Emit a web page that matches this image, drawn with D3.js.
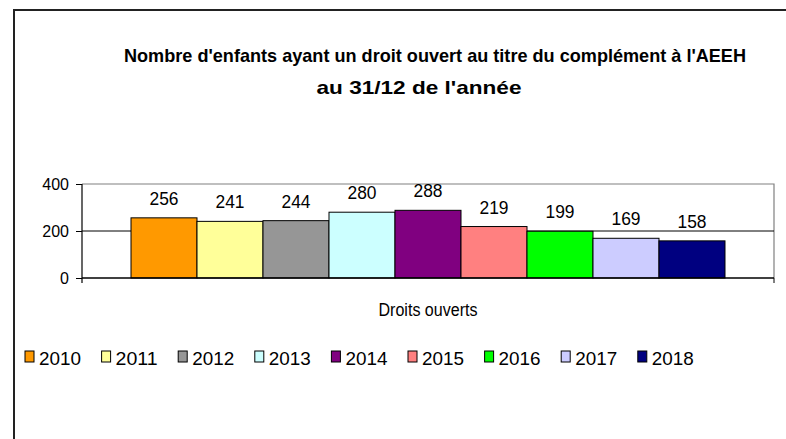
<!DOCTYPE html>
<html>
<head>
<meta charset="utf-8">
<script src="https://cdn.jsdelivr.net/npm/d3@7"></script>
<style>
  body { margin: 0; background: #fff; }
  text { font-family: "Liberation Sans", Arial, sans-serif; fill: #000; }
</style>
</head>
<body>
<svg id="chart" width="786" height="439"></svg>
<script>
// data
const years  = ['2010','2011','2012','2013','2014','2015','2016','2017','2018'];
const values = [256, 241, 244, 280, 288, 219, 199, 169, 158];
const colors = ['#FF9900','#FFFF99','#969696','#CCFFFF','#800080','#FF8080','#00FF00','#CCCCFF','#000080'];
const category = ['Droits ouverts'];
const yTicks = [0, 200, 400];

const svg = d3.select('#chart');

// outer frame (right/bottom edges fall outside the window)
svg.append('rect').attr('x', 14).attr('y', 10).attr('width', 800).attr('height', 500)
  .attr('fill', 'none').attr('stroke', '#222').attr('stroke-width', 2);

// title, two lines, tall and condensed like the original
const title = svg.append('g').attr('font-weight', 'bold').attr('text-anchor', 'middle');
title.append('text').attr('x', 435).attr('y', 62).attr('font-size', 19)
  .attr('textLength', 622).attr('lengthAdjust', 'spacingAndGlyphs')
  .text("Nombre d'enfants ayant un droit ouvert au titre du complément à l'AEEH");
title.append('text').attr('x', 419).attr('y', 94).attr('font-size', 19)
  .attr('textLength', 205).attr('lengthAdjust', 'spacingAndGlyphs')
  .text("au 31/12 de l'année");

// plot area
const L = 82, R = 774, T = 184, B = 278;
const y = d3.scaleLinear().domain([0, 400]).range([B, T]);
const x0 = d3.scaleBand().domain(category).range([L, R]).paddingInner(0).paddingOuter(0.0825);
const x1 = d3.scaleBand().domain(years).range([0, x0.bandwidth()]).padding(0);

// plot border top/right (gray)
svg.append('path').attr('d', `M${L},${T}H${R}V${B}`).attr('fill', 'none')
  .attr('stroke', '#808080').attr('stroke-width', 1.2);

// gridlines
svg.append('g').selectAll('line').data(yTicks.filter(v => v > 0 && v < 400)).join('line')
  .attr('x1', L).attr('x2', R).attr('y1', d => y(d)).attr('y2', d => y(d))
  .attr('stroke', '#000').attr('stroke-width', 1);

// bars
const g = svg.append('g').attr('transform', `translate(${x0(category[0])},0)`);
g.selectAll('rect').data(values).join('rect')
  .attr('x', (d, i) => x1(years[i]))
  .attr('y', d => y(d))
  .attr('width', x1.bandwidth())
  .attr('height', d => B - y(d))
  .attr('fill', (d, i) => colors[i])
  .attr('stroke', '#000').attr('stroke-width', 1);

// value labels
g.selectAll('text').data(values).join('text')
  .attr('x', (d, i) => x1(years[i]) + x1.bandwidth() / 2)
  .attr('y', d => y(d) - 13)
  .attr('text-anchor', 'middle').attr('font-size', 17.5)
  .attr('textLength', 29).attr('lengthAdjust', 'spacingAndGlyphs')
  .text(d => d);

// y axis
const yAxis = svg.append('g').attr('transform', `translate(${L},0)`)
  .call(d3.axisLeft(y).tickValues(yTicks).tickSize(6).tickPadding(7));
yAxis.select('.domain').remove();
yAxis.selectAll('line').attr('stroke', '#000');
yAxis.selectAll('text').attr('font-size', 16).attr('font-family', '"Liberation Sans", Arial, sans-serif');
svg.append('line').attr('x1', L).attr('x2', L).attr('y1', T).attr('y2', B + 5)
  .attr('stroke', '#000').attr('stroke-width', 1.2);

// x axis baseline + end ticks
svg.append('line').attr('x1', L).attr('x2', R).attr('y1', B).attr('y2', B)
  .attr('stroke', '#000').attr('stroke-width', 1.5);
svg.append('line').attr('x1', R).attr('x2', R).attr('y1', B).attr('y2', B + 5)
  .attr('stroke', '#000');
svg.append('text').attr('x', x0(category[0]) + x0.bandwidth() / 2).attr('y', 316)
  .attr('text-anchor', 'middle').attr('font-size', 18)
  .attr('textLength', 99).attr('lengthAdjust', 'spacingAndGlyphs').text(category[0]);

// legend
const leg = svg.append('g').selectAll('g').data(years).join('g')
  .attr('transform', (d, i) => `translate(${25 + i * 76.6},351)`);
leg.append('rect').attr('width', 9).attr('height', 11)
  .attr('fill', (d, i) => colors[i]).attr('stroke', '#000').attr('stroke-width', 1);
leg.append('text').attr('x', 14).attr('y', 13.5).attr('font-size', 19)
  .attr('textLength', 42).attr('lengthAdjust', 'spacingAndGlyphs').text(d => d);
</script>
</body>
</html>
